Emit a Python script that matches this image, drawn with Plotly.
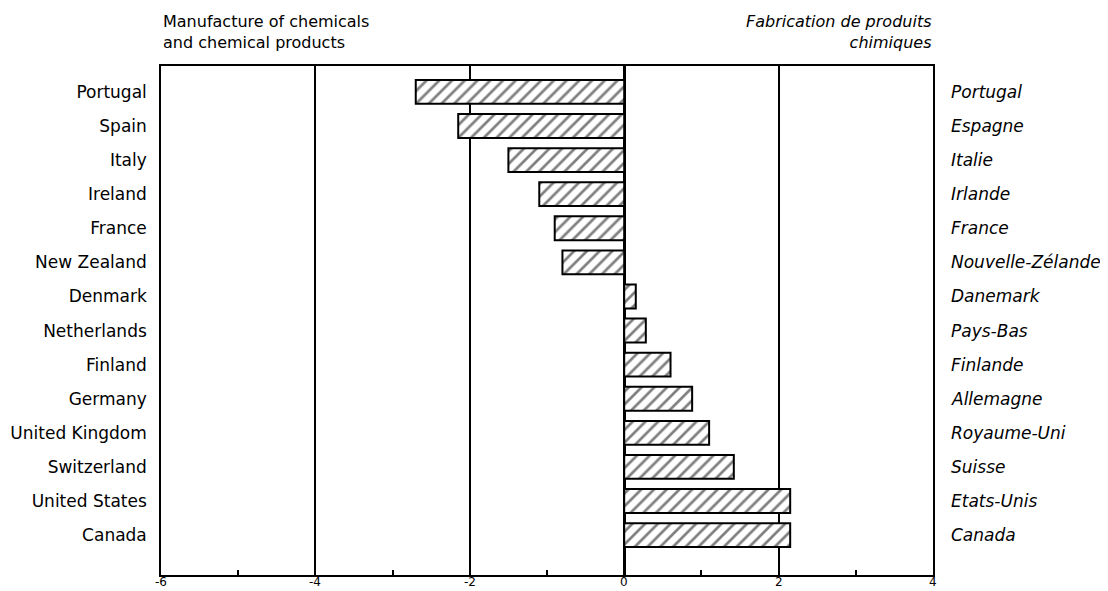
import plotly.graph_objects as go

countries = ["Portugal", "Spain", "Italy", "Ireland", "France", "New Zealand", "Denmark",
             "Netherlands", "Finland", "Germany", "United Kingdom", "Switzerland",
             "United States", "Canada"]
countries_fr = ["Portugal", "Espagne", "Italie", "Irlande", "France", "Nouvelle-Zélande",
                "Danemark", "Pays-Bas", "Finlande", "Allemagne", "Royaume-Uni", "Suisse",
                "Etats-Unis", "Canada"]
values = [-2.7, -2.15, -1.5, -1.1, -0.9, -0.8, 0.15, 0.28, 0.6, 0.88, 1.1, 1.42, 2.15, 2.15]
x_ticks = [-6, -4, -2, 0, 2, 4]

FONT = "DejaVu Sans"

fig = go.Figure()
fig.add_trace(go.Bar(
    y=countries, x=values, orientation="h", width=0.7,
    marker=dict(color="white",
                line=dict(color="black", width=2),
                pattern=dict(shape="/", fgcolor="black", bgcolor="white",
                             size=9, solidity=0.3)),
    showlegend=False,
))

for c, fr in zip(countries, countries_fr):
    fig.add_annotation(x=1, xref="paper", y=c, yref="y", text="<i>" + fr + "</i>",
                       showarrow=False, xanchor="left", xshift=16,
                       font=dict(family=FONT, size=17, color="black"))

for v in x_ticks:
    fig.add_annotation(x=v, xref="x", y=0, yref="paper", yanchor="top", yshift=1,
                       text=str(v), showarrow=False, borderpad=0,
                       font=dict(family=FONT, size=12, color="black"))

fig.add_annotation(x=0, xref="paper", y=1, yref="paper", yanchor="bottom", xanchor="left",
                   yshift=12, showarrow=False, align="left",
                   text="Manufacture of chemicals<br>and chemical products",
                   font=dict(family=FONT, size=16, color="black"))
fig.add_annotation(x=1, xref="paper", y=1, yref="paper", yanchor="bottom", xanchor="right",
                   yshift=12, showarrow=False, align="right",
                   text="<i>Fabrication de produits<br>chimiques</i>",
                   font=dict(family=FONT, size=16, color="black"))

fig.update_layout(
    width=1100, height=583,
    margin=dict(l=153, r=175, t=58, b=16),
    paper_bgcolor="white", plot_bgcolor="white",
    font=dict(family=FONT, size=17, color="black"),
    bargap=0.3,
)
fig.update_xaxes(
    range=[-6, 4], tickvals=x_ticks, showticklabels=False,
    showgrid=True, gridcolor="black", gridwidth=1.6,
    zeroline=True, zerolinecolor="black", zerolinewidth=2.6,
    showline=True, linecolor="black", linewidth=1.6, mirror=True,
    ticks="",
    minor=dict(tickvals=[-5, -3, -1, 1, 3], ticks="inside", ticklen=5,
               tickcolor="black", tickwidth=1.5, showgrid=False),
    fixedrange=True, automargin=False,
)
fig.update_yaxes(
    autorange=False, range=[14.17, -0.76],
    categoryorder="array", categoryarray=countries,
    showline=True, linecolor="black", linewidth=1.6, mirror=True,
    showgrid=False, ticks="", ticklabelstandoff=9,
    tickfont=dict(family=FONT, size=17),
    automargin=False,
)

fig.write_html("out.html")
